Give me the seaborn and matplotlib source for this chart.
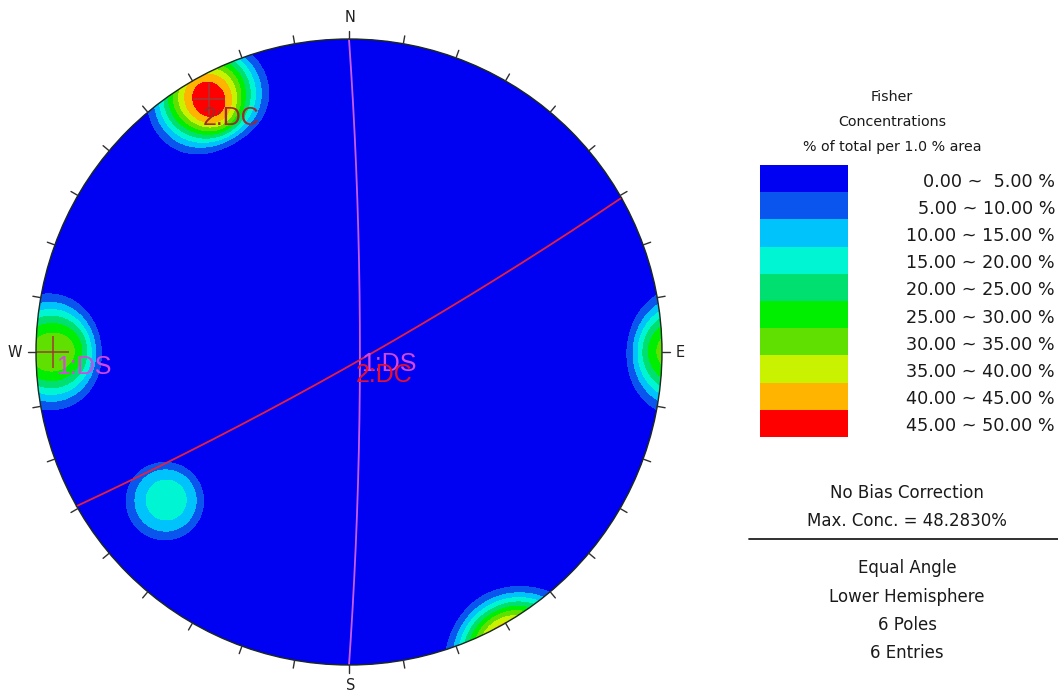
import numpy as np
import matplotlib
matplotlib.use("Agg")
import matplotlib.pyplot as plt
from matplotlib.colors import ListedColormap
from matplotlib.patches import Circle
import seaborn as sns

# ---- data -------------------------------------------------------------
# poles (trend, plunge in degrees) and the joint set each belongs to
pole_trend = [328.0, 334.0, 331.0, 268.0, 272.0, 231.0]
pole_plunge = [5.5, 5.5, 2.6, 3.5, 3.0, 16.3]
pole_set = ["2:DC", "2:DC", "2:DC", "1:DS", "1:DS", None]

# mean planes of the joint sets (dip direction, dip)
set_names = ["1:DS", "2:DC"]
set_dipdir = [90.0, 150.5]
set_dip = [86.0, 85.5]

# contour bins (percent of total per 1 % area)
bin_edges = [0, 5, 10, 15, 20, 25, 30, 35, 40, 45, 50]
bin_colors = ["#0000f2", "#0a55ee", "#00c3fb", "#00f5d2", "#00e070",
              "#00ee00", "#5fe000", "#c8f200", "#ffb400", "#ff0000"]
bin_labels = ["0.00 ~  5.00 %", "5.00 ~ 10.00 %", "10.00 ~ 15.00 %",
              "15.00 ~ 20.00 %", "20.00 ~ 25.00 %", "25.00 ~ 30.00 %",
              "30.00 ~ 35.00 %", "35.00 ~ 40.00 %", "40.00 ~ 45.00 %",
              "45.00 ~ 50.00 %"]
max_conc = 48.2830
info_lines = ["Equal Angle", "Lower Hemisphere", "6 Poles", "6 Entries"]

# ---- layout -----------------------------------------------------------
W, H = 1058, 694
CX, CY, R = 349.0, 352.0, 313.0
KAPPA = 600.0          # Fisher concentration of each pole
COUNT_AREA = 0.01      # counting cap = 1 % of the hemisphere

sns.set_theme(style="white")
plt.rcParams["font.family"] = ["Liberation Sans", "DejaVu Sans"]

fig = plt.figure(figsize=(W / 100, H / 100), dpi=100)
ax = fig.add_axes([0, 0, 1, 1])
ax.set_xlim(0, W)
ax.set_ylim(H, 0)
ax.axis("off")


def to_vec(trend, plunge):
    t, p = np.radians(trend), np.radians(plunge)
    return np.array([np.cos(p) * np.sin(t), np.cos(p) * np.cos(t), np.sin(p)])


def project(v):
    """Equal-angle lower-hemisphere projection of (E, N, Down) vectors -> pixels."""
    v = np.atleast_2d(v)
    e, n, d = v[:, 0], v[:, 1], v[:, 2]
    theta = np.arccos(np.clip(d, -1, 1))
    r = np.tan(theta / 2)
    tr = np.arctan2(e, n)
    return CX + R * r * np.sin(tr), CY - R * r * np.cos(tr)


# ---- counting kernel: share of a Fisher-spread pole inside the 1 % cap --
sig = np.degrees(1 / np.sqrt(KAPPA))
alpha = np.degrees(np.arccos(1 - COUNT_AREA))
q = np.linspace(-6 * sig, 6 * sig, 301)
qu, qv = np.meshgrid(q, q)
qw = np.exp(-(qu ** 2 + qv ** 2) / (2 * sig ** 2))
qw /= qw.sum()
beta = np.linspace(0, 40, 401)
share = np.array([qw[(qu - b) ** 2 + qv ** 2 < alpha ** 2].sum() for b in beta])

# ---- density grid -----------------------------------------------------
n = 700
g = np.linspace(-1.03, 1.03, n)
gx, gy = np.meshgrid(g, g)
rr = np.hypot(gx, gy)
theta = 2 * np.arctan(rr)
tr = np.arctan2(gx, gy)
V = np.stack([np.sin(theta) * np.sin(tr), np.sin(theta) * np.cos(tr), np.cos(theta)], -1)

poles = np.array([to_vec(t, p) for t, p in zip(pole_trend, pole_plunge)])
dens = np.zeros_like(rr)
for p in poles:
    c = np.clip(V @ p, -1, 1)
    for cc in (c, -c):
        dens += np.interp(np.degrees(np.arccos(cc)), beta, share, right=0.0)
dens *= 100.0 / len(poles)
dens = np.clip(dens, 0, 49.99)

px = CX + R * gx
py = CY - R * gy
clip = Circle((CX, CY), R, transform=ax.transData)
ax.add_patch(Circle((CX, CY), R, facecolor=bin_colors[0], edgecolor="none", zorder=0))
cf = ax.contourf(px, py, dens, levels=bin_edges, colors=bin_colors, zorder=1)
cf.set_clip_path(clip)

# ---- mean planes (great circles) -------------------------------------
plane_colors = {"1:DS": "#c95cf0", "2:DC": "#e8203e"}
label_colors = {"1:DS": "#d548e0", "2:DC": "#e8102e"}
t = np.linspace(0, np.pi, 400)
for name, dd, dip in zip(set_names, set_dipdir, set_dip):
    ddr, dr = np.radians(dd), np.radians(dip)
    s = np.array([np.sin(ddr - np.pi / 2), np.cos(ddr - np.pi / 2), 0.0])
    d = np.array([np.sin(ddr) * np.cos(dr), np.cos(ddr) * np.cos(dr), np.sin(dr)])
    pts = np.outer(np.cos(t), s) + np.outer(np.sin(t), d)
    x, y = project(pts)
    sns.lineplot(x=x, y=y, sort=False, estimator=None, ax=ax,
                 color=plane_colors[name], linewidth=1.3, zorder=3, legend=False)
    mx, my = project(d)
    ax.text(mx[0] + 1, my[0] + 12, name, color=label_colors[name], fontsize=18,
            ha="left", va="center", zorder=5)

# ---- set mean poles ---------------------------------------------------
for name in set_names:
    idx = [i for i, s_ in enumerate(pole_set) if s_ == name]
    m = poles[idx].sum(0)
    m /= np.linalg.norm(m)
    x, y = project(m)
    sns.scatterplot(x=x, y=y, marker="+", s=500, color="#a03838",
                    linewidth=1.1, ax=ax, zorder=4, legend=False)
    col = "#d548e0" if name == "1:DS" else "#a02828"
    off = (3, 15) if name == "1:DS" else (-6, 19)
    ax.text(x[0] + off[0], y[0] + off[1], name, color=col, fontsize=18,
            ha="left", va="center", zorder=5)

# ---- net outline, ticks, cardinal labels ------------------------------
ax.add_patch(Circle((CX, CY), R, facecolor="none", edgecolor="#1c2a1c",
                    linewidth=1.0, zorder=6))
for az in range(0, 360, 10):
    a = np.radians(az)
    ax.plot([CX + R * np.sin(a), CX + (R + 8) * np.sin(a)],
            [CY - R * np.cos(a), CY - (R + 8) * np.cos(a)],
            color="#303030", linewidth=1.0, zorder=6)
for lab, (x, y) in {"N": (CX + 1, 17), "S": (CX + 2, 686),
                    "W": (15, CY), "E": (680, CY)}.items():
    ax.text(x, y, lab, fontsize=10.5, color="#202020", ha="center", va="center",
            family="DejaVu Sans")

# ---- legend -----------------------------------------------------------
tc = "#1a1a1a"
lf = "DejaVu Sans"
for i, s_ in enumerate(["Fisher", "Concentrations", "% of total per 1.0 % area"]):
    ax.text(892, 97 + 25 * i, s_, fontsize=10.3, ha="center", va="center",
            color=tc, family=lf)

lax = fig.add_axes([760 / W, 1 - 437 / H, 88 / W, 272 / H])
bar = np.arange(len(bin_colors)).reshape(-1, 1)
sns.heatmap(bar, ax=lax, cmap=ListedColormap(bin_colors), cbar=False,
            xticklabels=False, yticklabels=False, vmin=-0.5,
            vmax=len(bin_colors) - 0.5)
band = 272 / len(bin_colors)
for i, lab in enumerate(bin_labels):
    ax.text(1055, 165 + band * (i + 0.5) + 3, lab, fontsize=12.7, ha="right",
            va="center", color=tc, family=lf)

ax.text(907, 493, "No Bias Correction", fontsize=12, ha="center", va="center",
        color=tc, family=lf)
ax.text(907, 521, f"Max. Conc. = {max_conc:.4f}%", fontsize=12, ha="center",
        va="center", color=tc, family=lf)
ax.plot([749, W], [539, 539], color="#202020", linewidth=1.3)
for i, s_ in enumerate(info_lines):
    ax.text(907, 568 + 28.5 * i, s_, fontsize=12, ha="center", va="center",
            color=tc, family=lf)

fig.savefig("out.png", dpi=100)
